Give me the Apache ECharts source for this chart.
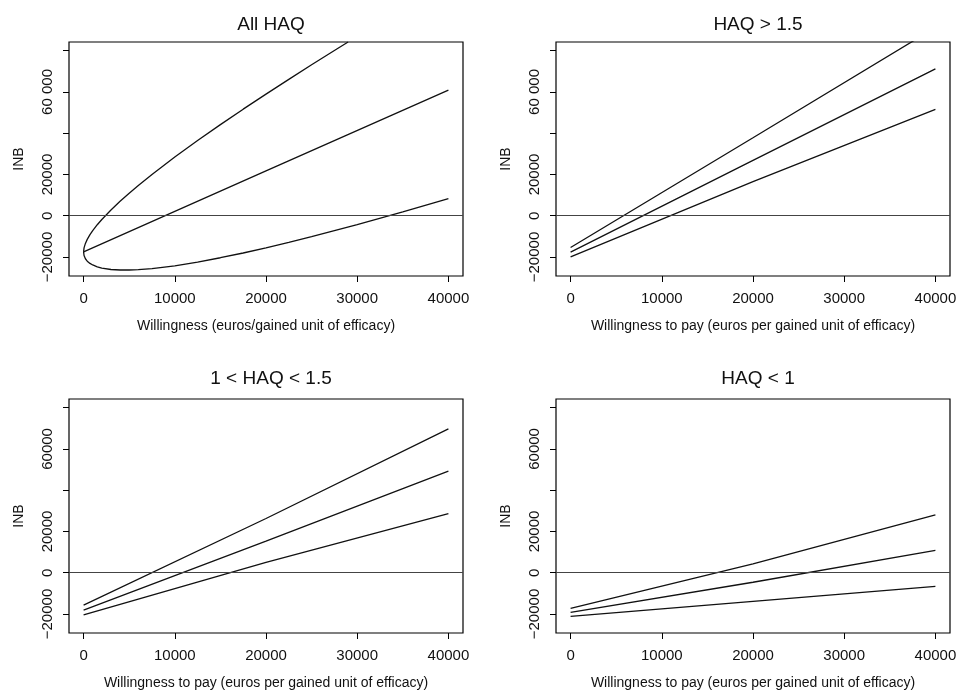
<!DOCTYPE html>
<html>
<head>
<meta charset="utf-8">
<script src="https://cdn.jsdelivr.net/npm/echarts@6/dist/echarts.min.js"></script>
<style>
  html, body { margin: 0; padding: 0; background: #fff; }
</style>
</head>
<body>
<div id="main" style="width:965px;height:691px;"></div>
<script>
// panel titles
var panelTitles = ["All HAQ", "HAQ > 1.5", "1 < HAQ < 1.5", "HAQ < 1"];
var xTitles = [
  "Willingness (euros/gained unit of efficacy)",
  "Willingness to pay (euros per gained unit of efficacy)",
  "Willingness to pay (euros per gained unit of efficacy)",
  "Willingness to pay (euros per gained unit of efficacy)"
];
var xTicks = [0, 10000, 20000, 30000, 40000];
var yTicks = [-20000, 0, 20000, 40000, 60000, 80000];
var yLabels = [-20000, 0, 20000, 60000];

// All HAQ: the two curved bounds
var wtpLower = [0, 50, 200, 400, 700, 1000, 1500, 2000, 3000, 4000, 5000, 6000, 7500,
  10000, 12500, 15000, 17500, 20000, 22500, 25000, 27500, 30000, 35000, 40000];
var allLower = [-17500, -19250, -20850, -22000, -23100, -23850, -24750, -25350, -26050, -26300, -26300, -26150, -25600,
  -24250, -22450, -20350, -18050, -15550, -12900, -10150, -7250, -4300, 1850, 8250];
var wtpUpper = [0, 50, 200, 400, 700, 1000, 1500, 2000, 3000, 4000, 5000, 6000, 7500,
  10000, 12500, 15000, 17500, 20000, 22500, 25000, 27500, 29000];
var allUpper = [-17500, -15550, -13400, -11450, -9150, -7200, -4350, -1800, 2800, 7000, 10900, 14650, 20000,
  28450, 36450, 44150, 51650, 58950, 66100, 73150, 80050, 84200];

// straight-ish lines: values at 0, 20000, 40000
var wtpLine = [0, 20000, 40000];
var allMid = [-17500, 21700, 60900];
var hiTop = [-15400, 37800, 91200];
var hiMid = [-17600, 26800, 71200];
var hiLow = [-19900, 16500, 51500];
var midTop = [-15700, 26300, 69700];
var midMid = [-18100, 15300, 49200];
var midLow = [-20400, 5000, 28600];
var loTop = [-17300, 4300, 28000];
var loMid = [-19200, -4600, 10800];
var loLow = [-21100, -13900, -6600];

var panelLines = [
  [[wtpUpper, allUpper], [wtpLine, allMid], [wtpLower, allLower]],
  [[wtpLine, hiTop], [wtpLine, hiMid], [wtpLine, hiLow]],
  [[wtpLine, midTop], [wtpLine, midMid], [wtpLine, midLow]],
  [[wtpLine, loTop], [wtpLine, loMid], [wtpLine, loLow]]
];

var boxes = [
  { left: 69, top: 42, width: 394, height: 234, titleTop: 10 },
  { left: 556, top: 42, width: 394, height: 234, titleTop: 10 },
  { left: 69, top: 399, width: 394, height: 234, titleTop: 364 },
  { left: 556, top: 399, width: 394, height: 234, titleTop: 364 }
];

var font = "Liberation Sans";
var myChart = echarts.init(document.getElementById("main"));

function pairs(xs, ys) {
  return ys.map(function (y, i) { return [xs[i], y]; });
}

var grids = [], xAxes = [], yAxes = [], titles = [], series = [];
boxes.forEach(function (b, i) {
  grids.push({
    left: b.left, top: b.top, width: b.width, height: b.height,
    show: true, borderColor: "#000", borderWidth: 1.2,
    outerBoundsMode: "none"
  });
  titles.push({
    text: panelTitles[i],
    left: b.left + b.width / 2,
    top: b.titleTop,
    textAlign: "center",
    textStyle: { fontFamily: font, fontSize: 19, fontWeight: "normal", color: "#111" }
  });
  xAxes.push({
    gridIndex: i, type: "value", min: -1600, max: 41600,
    splitLine: { show: false },
    axisLine: { show: false, onZero: false },
    axisTick: { show: true, length: 6, customValues: xTicks, lineStyle: { color: "#000", width: 1 } },
    axisLabel: {
      customValues: xTicks, margin: 15, color: "#111",
      fontFamily: font, fontSize: 15,
      formatter: function (v) { return String(v); }
    },
    name: xTitles[i], nameLocation: "middle", nameGap: 43,
    nameTextStyle: { fontFamily: font, fontSize: 14, color: "#111" }
  });
  yAxes.push({
    gridIndex: i, type: "value", min: -29200, max: 84200,
    splitLine: { show: false },
    axisLine: { show: false, onZero: false },
    axisTick: { show: true, length: 6, customValues: yTicks, lineStyle: { color: "#000", width: 1 } },
    axisLabel: {
      customValues: yLabels, margin: 14, rotate: 90, color: "#111",
      fontFamily: font, fontSize: 15,
      formatter: function (v) {
        if (v < 0) return "\u2212" + Math.abs(v);
        if (v === 60000 && i < 2) return "60 000";
        return String(v);
      }
    },
    name: "INB", nameLocation: "middle", nameGap: 43, nameRotate: 90,
    nameTextStyle: { fontFamily: font, fontSize: 14, color: "#111" }
  });
  panelLines[i].forEach(function (ln, k) {
    var s = {
      type: "line", xAxisIndex: i, yAxisIndex: i,
      data: pairs(ln[0], ln[1]),
      showSymbol: false, silent: true, clip: true,
      lineStyle: { color: "#111", width: 1.3 }
    };
    if (k === 0) {
      s.markLine = {
        silent: true, symbol: "none", label: { show: false },
        lineStyle: { color: "#444", width: 1, type: "solid" },
        data: [{ yAxis: 0 }]
      };
    }
    series.push(s);
  });
});

myChart.setOption({
  backgroundColor: "#fff",
  animation: false,
  title: titles,
  grid: grids,
  xAxis: xAxes,
  yAxis: yAxes,
  series: series
});
</script>
</body>
</html>
